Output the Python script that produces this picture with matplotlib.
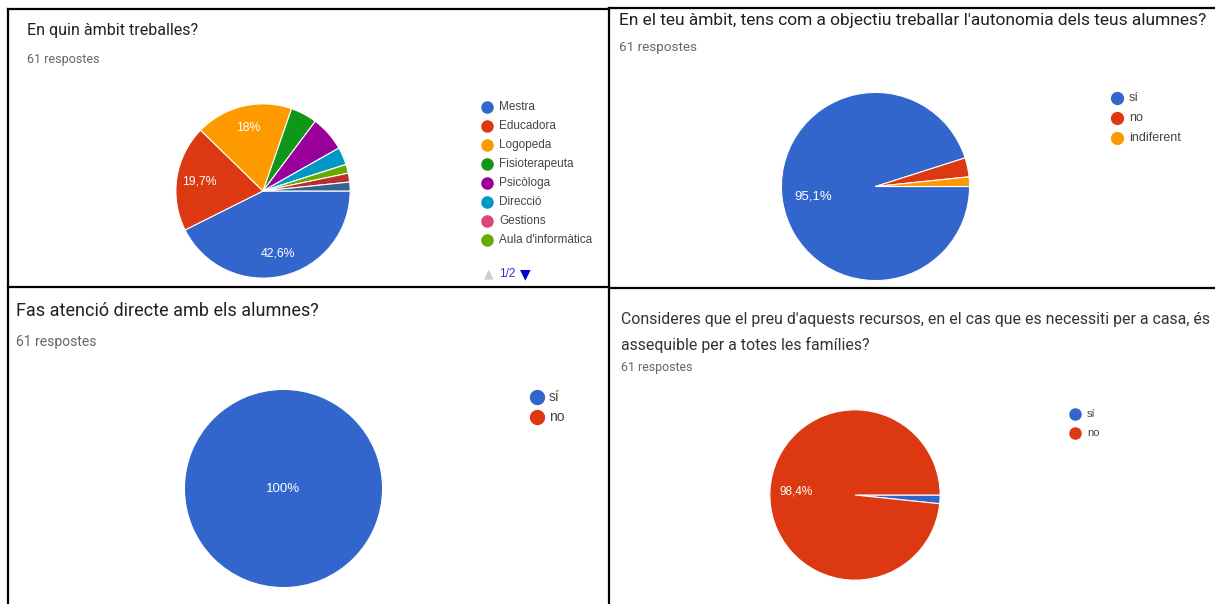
import matplotlib.pyplot as plt

W, H = 1215, 604

# google forms palette
BLUE = "#3366cc"
RED = "#dc3912"
ORANGE = "#ff9900"
GREEN = "#109618"
PURPLE = "#990099"
CYAN = "#0099c6"
PINK = "#dd4477"
LIME = "#66aa00"
DARKRED = "#b82e2e"
STEEL = "#316395"

# chart 1: En quin ambit treballes?
ambit_labels = ["Mestra", "Educadora", "Logopeda", "Fisioterapeuta", "Psicòloga",
                "Direcció", "Gestions", "Aula d'informàtica"]
ambit_values = [26, 12, 11, 3, 4, 2, 0, 1, 1, 1]
ambit_colors = [BLUE, RED, ORANGE, GREEN, PURPLE, CYAN, PINK, LIME, DARKRED, STEEL]

# chart 2: autonomia
autonomia_labels = ["sí", "no", "indiferent"]
autonomia_values = [58, 2, 1]
autonomia_colors = [BLUE, RED, ORANGE]

# chart 3: atencio directe
atencio_labels = ["sí", "no"]
atencio_values = [61, 0]
atencio_colors = [BLUE, RED]

# chart 4: preu assequible
preu_labels = ["sí", "no"]
preu_values = [1, 60]
preu_colors = [BLUE, RED]

TITLE_FONT = ["Roboto", "DejaVu Sans"]
BODY_FONT = ["Liberation Sans", "DejaVu Sans"]


def pct_label(p):
    if p < 10:
        return ""
    s = "{:.1f}".format(p).replace(".", ",")
    if s.endswith(",0"):
        s = s[:-2]
    return s + "%"


fig = plt.figure(figsize=(W / 100, H / 100), dpi=100)
bg = fig.add_axes([0, 0, 1, 1])
bg.set_xlim(0, W)
bg.set_ylim(H, 0)
bg.axis("off")

# panel borders
lw = 1.6
bg.plot([8, 8], [9, H], color="black", lw=lw)
bg.plot([8, 609], [9, 9], color="black", lw=lw)
bg.plot([609, W], [8, 8], color="black", lw=lw)
bg.plot([609, 609], [8, H], color="black", lw=lw)
bg.plot([8, 609], [287, 287], color="black", lw=lw)
bg.plot([609, W], [288, 288], color="black", lw=lw)


def draw_pie(cx, cy, r, values, colors, pctdist, fsize, edge=0.8):
    ax = fig.add_axes([(cx - r) / W, 1 - (cy + r) / H, 2 * r / W, 2 * r / H])
    wedges, texts, autotexts = ax.pie(
        values, colors=colors, startangle=0, counterclock=False,
        autopct=pct_label, pctdistance=pctdist,
        wedgeprops=dict(edgecolor="white", linewidth=edge),
        textprops=dict(color="white", fontsize=fsize, family=BODY_FONT))
    ax.set_xlim(-1.01, 1.01)
    ax.set_ylim(-1.01, 1.01)
    ax.set_aspect("equal")
    ax.axis("off")
    return ax


def draw_legend(x, y0, dy, labels, colors, ms, fsize, gap=12):
    for i, (lab, col) in enumerate(zip(labels, colors)):
        y = y0 + i * dy
        bg.plot(x, y, "o", ms=ms, color=col, mec=col)
        bg.text(x + gap, y, lab, va="center", ha="left", fontsize=fsize,
                color="#444444", family=BODY_FONT)


def header(x, y, title, tsize, y_resp, rsize, tcolor="#202124"):
    bg.text(x, y, title, va="center", ha="left", fontsize=tsize,
            color=tcolor, family=TITLE_FONT, linespacing=1.75)
    bg.text(x, y_resp, "61 respostes", va="center", ha="left", fontsize=rsize,
            color="#666666", family=TITLE_FONT)


# chart 1
header(27, 31, "En quin àmbit treballes?", 11.5, 59, 9)
draw_pie(263, 191, 88, ambit_values, ambit_colors, 0.74, 8.8)
draw_legend(487, 107, 19, ambit_labels, ambit_colors[:8], 8, 8.5)
bg.text(489, 274, "▲", color="#cccccc", fontsize=9, va="center", ha="center",
        family=["DejaVu Sans"])
bg.text(499, 274, "1/2", color="#3333cc", fontsize=8.5, va="center", ha="left",
        family=BODY_FONT)
bg.text(525, 274, "▼", color="#0000cc", fontsize=10, va="center", ha="center",
        family=["DejaVu Sans"])

# chart 2
header(619, 20, "En el teu àmbit, tens com a objectiu treballar l'autonomia dels teus alumnes?",
       12.5, 48, 9.7)
draw_pie(875.5, 186.5, 95, autonomia_values, autonomia_colors, 0.67, 9.5)
draw_legend(1117, 98, 20, autonomia_labels, autonomia_colors, 8.5, 9)

# chart 3
header(16, 311, "Fas atenció directe amb els alumnes?", 13, 342, 10)
draw_pie(283.5, 488.5, 99.5, atencio_values, atencio_colors, 0.0, 9.5, edge=0)
draw_legend(537, 397, 20, atencio_labels, atencio_colors, 10, 10)

# chart 4
header(621, 332.5,
       "Consideres que el preu d'aquests recursos, en el cas que es necessiti per a casa, és\n"
       "assequible per a totes les famílies?", 11.45, 368, 8.9, tcolor="#333333")
draw_pie(855, 495, 86, preu_values, preu_colors, 0.69, 8.5)
draw_legend(1075, 414, 19, preu_labels, preu_colors, 8, 8)

fig.savefig("out.png", dpi=100)
